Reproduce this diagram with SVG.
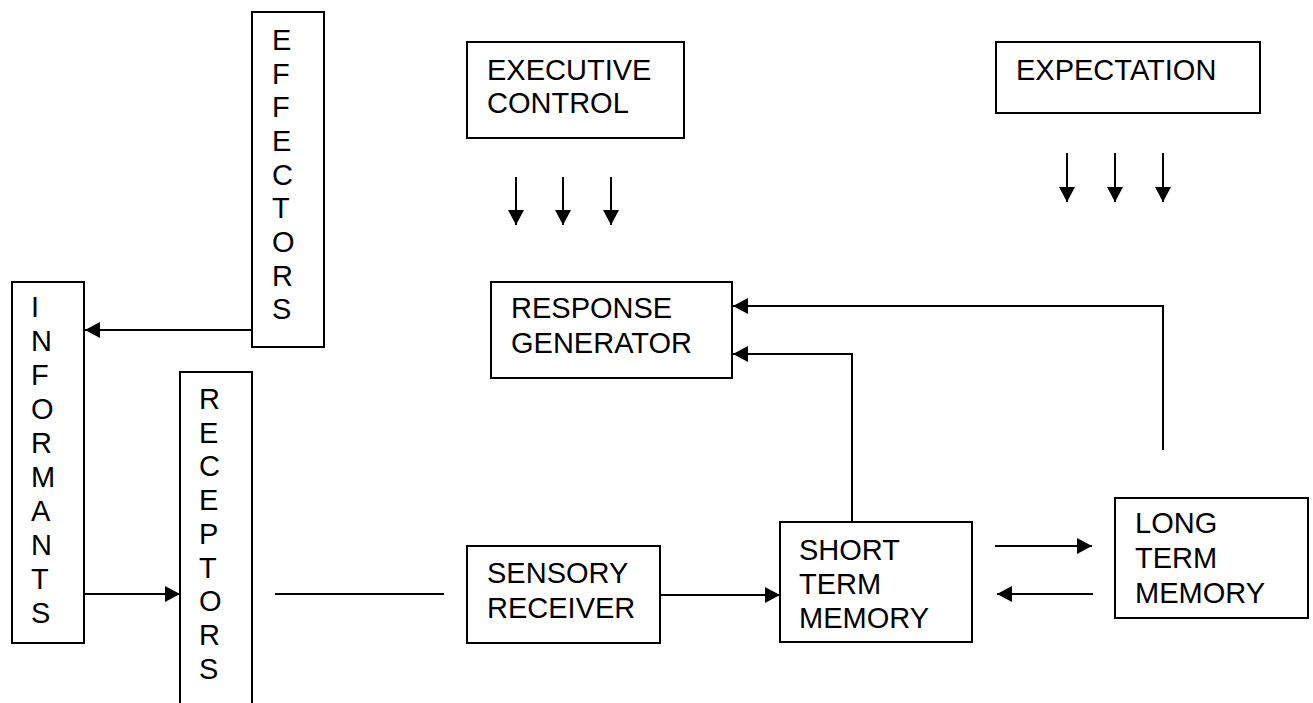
<svg xmlns="http://www.w3.org/2000/svg" width="1313" height="703" viewBox="0 0 1313 703">
<style>
.box{fill:#fff;stroke:#000;stroke-width:2}
.t{font-family:"Liberation Sans",Arial,sans-serif;font-size:29px;fill:#000}
.c{fill:none;stroke:#000;stroke-width:2}
</style>
<defs>
<marker id="ah" markerUnits="userSpaceOnUse" markerWidth="15" markerHeight="16" viewBox="0 0 15 16" refX="15" refY="8" orient="auto">
<path d="M0,0 L15,8 L0,16 z" fill="#000"/>
</marker>
</defs>
<rect width="1313" height="703" fill="#fff"/>
<g id="effectors">
<rect class="box" x="252" y="12" width="72" height="335"/>
<text class="t" x="272"><tspan x="272" y="50">E</tspan><tspan x="272" y="84">F</tspan><tspan x="272" y="117">F</tspan><tspan x="272" y="151">E</tspan><tspan x="272" y="185">C</tspan><tspan x="272" y="218">T</tspan><tspan x="272" y="252">O</tspan><tspan x="272" y="286">R</tspan><tspan x="272" y="319">S</tspan></text>
</g>
<g id="informants">
<rect class="box" x="12" y="282" width="72" height="361"/>
<text class="t"><tspan x="31" y="317">I</tspan><tspan x="31" y="351">N</tspan><tspan x="31" y="385">F</tspan><tspan x="31" y="419">O</tspan><tspan x="31" y="453">R</tspan><tspan x="31" y="487">M</tspan><tspan x="31" y="521">A</tspan><tspan x="31" y="555">N</tspan><tspan x="31" y="589">T</tspan><tspan x="31" y="623">S</tspan></text>
</g>
<g id="receptors">
<path class="box" d="M180,706 V372 H252 V706"/>
<text class="t"><tspan x="199" y="409">R</tspan><tspan x="199" y="443">E</tspan><tspan x="199" y="476">C</tspan><tspan x="199" y="510">E</tspan><tspan x="199" y="544">P</tspan><tspan x="199" y="578">T</tspan><tspan x="199" y="611">O</tspan><tspan x="199" y="645">R</tspan><tspan x="199" y="679">S</tspan></text>
</g>
<g id="executive-control">
<rect class="box" x="467" y="42" width="217" height="96"/>
<text class="t"><tspan x="487" y="80">EXECUTIVE</tspan><tspan x="487" y="113">CONTROL</tspan></text>
</g>
<g id="expectation">
<rect class="box" x="996" y="42" width="264" height="71"/>
<text class="t" x="1016" y="80">EXPECTATION</text>
</g>
<g id="response-generator">
<rect class="box" x="491" y="282" width="241" height="96"/>
<text class="t"><tspan x="511" y="318">RESPONSE</tspan><tspan x="511" y="353">GENERATOR</tspan></text>
</g>
<g id="sensory-receiver">
<rect class="box" x="467" y="546" width="193" height="97"/>
<text class="t"><tspan x="487" y="583">SENSORY</tspan><tspan x="487" y="618">RECEIVER</tspan></text>
</g>
<g id="short-term-memory">
<rect class="box" x="780" y="522" width="192" height="120"/>
<text class="t"><tspan x="799" y="560">SHORT</tspan><tspan x="799" y="594">TERM</tspan><tspan x="799" y="628">MEMORY</tspan></text>
</g>
<g id="long-term-memory">
<rect class="box" x="1115" y="498" width="193" height="120"/>
<text class="t"><tspan x="1135" y="533">LONG</tspan><tspan x="1135" y="568">TERM</tspan><tspan x="1135" y="603">MEMORY</tspan></text>
</g>
<g id="connectors">
<line class="c" x1="516" y1="177" x2="516" y2="225" marker-end="url(#ah)"/>
<line class="c" x1="563" y1="177" x2="563" y2="225" marker-end="url(#ah)"/>
<line class="c" x1="611" y1="177" x2="611" y2="225" marker-end="url(#ah)"/>
<line class="c" x1="1067" y1="153" x2="1067" y2="202" marker-end="url(#ah)"/>
<line class="c" x1="1115" y1="153" x2="1115" y2="202" marker-end="url(#ah)"/>
<line class="c" x1="1163" y1="153" x2="1163" y2="202" marker-end="url(#ah)"/>
<line class="c" x1="252" y1="330" x2="85" y2="330" marker-end="url(#ah)"/>
<line class="c" x1="84" y1="594" x2="180" y2="594" marker-end="url(#ah)"/>
<line class="c" x1="275" y1="594" x2="444" y2="594"/>
<line class="c" x1="660" y1="595" x2="780" y2="595" marker-end="url(#ah)"/>
<polyline class="c" points="852,522 852,354 733,354" marker-end="url(#ah)"/>
<polyline class="c" points="1163,450 1163,306 733,306" marker-end="url(#ah)"/>
<line class="c" x1="995" y1="546" x2="1092" y2="546" marker-end="url(#ah)"/>
<line class="c" x1="1093" y1="594" x2="997" y2="594" marker-end="url(#ah)"/>
</g>
</svg>
